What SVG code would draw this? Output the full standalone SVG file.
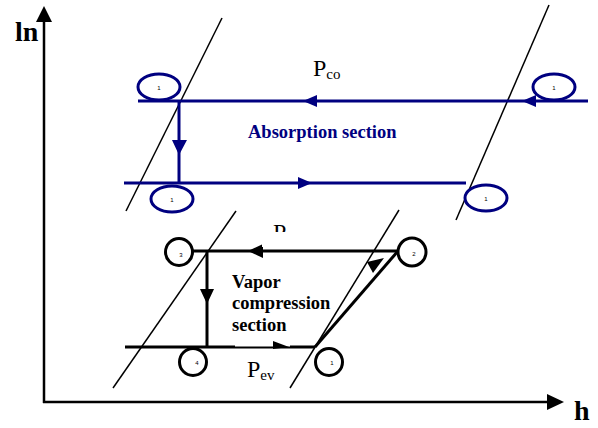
<svg xmlns="http://www.w3.org/2000/svg" width="598" height="428" viewBox="0 0 598 428">
<style>
.ax{stroke:#000;stroke-width:2.5;fill:none}
.thin{stroke:#000;stroke-width:1.5;fill:none}
.bl{stroke:#000080;stroke-width:3;fill:none}
.bk{stroke:#000;stroke-width:3;fill:none}
.ov{stroke:#000080;stroke-width:3;fill:#fff}
.ci{stroke:#000;stroke-width:3;fill:#fff}
.bah{fill:#000080}
.kah{fill:#000}
.tiny{font-family:'Liberation Sans',Arial,sans-serif;font-size:6px;text-anchor:middle}
.lab{font-family:'Liberation Serif','Times New Roman',serif}
</style>
<rect width="598" height="428" fill="#fff"/>
<g id="axes">
<line class="ax" x1="44" y1="403" x2="44" y2="18"/>
<polygon class="kah" points="44,6 36,22 52,22"/>
<line class="ax" x1="43" y1="402" x2="550" y2="402"/>
<polygon class="kah" points="564,402 547,394 547,410"/>
<text class="lab" x="15" y="41" font-size="28" font-weight="bold">ln</text>
<text class="lab" x="574" y="420" font-size="28" font-weight="bold">h</text>
</g>
<g id="quality-lines">
<line class="thin" x1="222" y1="18" x2="126" y2="211"/>
<line class="thin" x1="549" y1="5" x2="456" y2="220"/>
<line class="thin" x1="236" y1="211" x2="113" y2="388"/>
<line class="thin" x1="399" y1="210" x2="290" y2="388"/>
</g>
<g id="connectors">
<line class="bl" x1="138" y1="101" x2="588" y2="101"/>
<line class="bl" x1="124" y1="183" x2="466" y2="183"/>
<line class="bl" x1="179" y1="101" x2="179" y2="183"/>
<polygon class="bah" points="303,101 317,95 317,107"/>
<polygon class="bah" points="522,101 536,95 536,107"/>
<polygon class="bah" points="312,183 298,177 298,189"/>
<polygon class="bah" points="179,155 172,140 187,140"/>
<line class="bk" x1="192" y1="251" x2="398" y2="251"/>
<line class="bk" x1="207" y1="251" x2="207" y2="347"/>
<line class="bk" x1="125" y1="347" x2="315" y2="347"/>
<rect x="235" y="343" width="55" height="3.5" fill="#fff"/>
<line class="bk" x1="315" y1="347" x2="398" y2="251"/>
<polygon class="kah" points="248,251 263,244 263,258"/>
<polygon class="kah" points="207,304 200,289 214,289"/>
<polygon class="kah" points="273,341 289,347 273,349"/>
<polygon class="kah" points="384,258 367,262 373,273"/>
</g>
<g id="labels">
<text class="lab" x="313" y="76" font-size="24">P<tspan font-size="15" dy="3">co</tspan></text>
<text class="lab" x="248" y="138" font-size="18.5" font-weight="bold" fill="#000080">Absorption section</text>
<text class="lab" x="273" y="240" font-size="24">P</text>
<rect x="262" y="232" width="40" height="15" fill="#fff"/>
<text class="lab" font-size="18.5" font-weight="bold" x="232" y="288">Vapor</text>
<text class="lab" font-size="18.5" font-weight="bold" x="232" y="309">compression</text>
<text class="lab" font-size="18.5" font-weight="bold" x="232" y="331">section</text>
<text class="lab" x="247" y="377" font-size="24">P<tspan font-size="15" dy="3">ev</tspan></text>
</g>
<g id="node-a1"><ellipse class="ov" cx="159" cy="87" rx="21" ry="13"/><text class="tiny" x="159" y="90">1</text></g>
<g id="node-a2"><ellipse class="ov" cx="554" cy="87" rx="21" ry="13"/><text class="tiny" x="554" y="90">1</text></g>
<g id="node-a3"><ellipse class="ov" cx="172" cy="199" rx="21" ry="13"/><text class="tiny" x="172" y="202">1</text></g>
<g id="node-a4"><ellipse class="ov" cx="486" cy="198" rx="21" ry="13"/><text class="tiny" x="486" y="201">1</text></g>
<g id="node-v3"><circle class="ci" cx="179" cy="252" r="13.5"/><text class="tiny" x="181" y="257">3</text></g>
<g id="node-v2"><circle class="ci" cx="412" cy="252" r="14"/><text class="tiny" x="414" y="256">2</text></g>
<g id="node-v4"><circle class="ci" cx="193" cy="362" r="13.5"/><text class="tiny" x="197" y="365">4</text></g>
<g id="node-v1"><circle class="ci" cx="329" cy="362" r="13.5"/><text class="tiny" x="332" y="365">1</text></g>
</svg>
